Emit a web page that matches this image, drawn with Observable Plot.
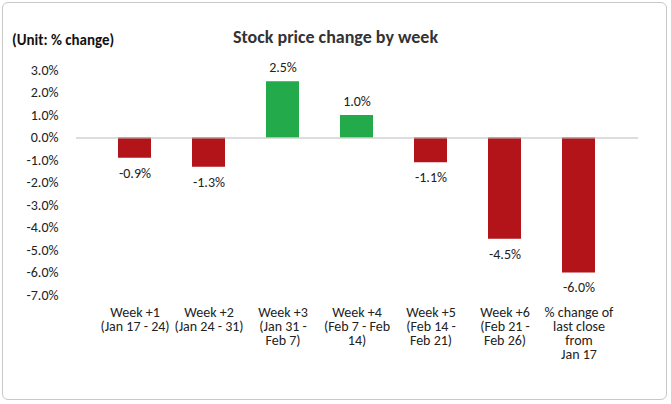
<!DOCTYPE html>
<html><head>
<script src="https://cdn.jsdelivr.net/npm/d3@7"></script>
<script src="https://cdn.jsdelivr.net/npm/@observablehq/plot@0.6"></script>
<style>
body{margin:0;background:#fff;font-family:Carlito,Calibri,"Liberation Sans",Lato,sans-serif;}
#wrap{position:relative;width:671px;height:404px;}
#frame{position:absolute;left:2px;top:2px;width:665px;height:398px;border:1px solid #c8c8c8;border-radius:6px;box-sizing:border-box;}
#title{position:absolute;left:0;width:671px;top:26px;text-align:center;font-weight:bold;font-size:18px;color:#333;}
#unit{position:absolute;left:12px;top:31px;font-weight:bold;font-size:15px;color:#111;}
#chart{position:absolute;left:0;top:0;}
</style></head><body>
<div id="wrap"><div id="frame"></div><div id="chart"></div><div id="title">Stock price change by week</div><div id="unit">(Unit: % change)</div></div>
<script>
const categories = ["Week +1\n(Jan 17 - 24)","Week +2\n(Jan 24 - 31)","Week +3\n(Jan 31 -\nFeb 7)","Week +4\n(Feb 7 - Feb\n14)","Week +5\n(Feb 14 -\nFeb 21)","Week +6\n(Feb 21 -\nFeb 26)","% change of\nlast close\nfrom\nJan 17"];
const values = [-0.9,-1.3,2.5,1.0,-1.1,-4.5,-6.0];
const yTicks = [3,2,1,0,-1,-2,-3,-4,-5,-6,-7];
const data = categories.map((c,i)=>({c,v:values[i]}));
const fmt = v => v.toFixed(1)+"%";
const chart = Plot.plot({
  width:671,height:404,marginTop:70,marginBottom:109,marginLeft:76,marginRight:33,
  style:{fontFamily:"Carlito,Calibri,'Liberation Sans',sans-serif",fontSize:"14px",color:"#222",background:"transparent"},
  x:{domain:categories,padding:0.55,tickSize:0,tickPadding:12,label:null},
  y:{domain:[-7,3],ticks:yTicks,tickFormat:fmt,tickSize:0,tickPadding:18,label:null},
  marks:[
    Plot.barY(data,{x:"c",y:"v",fill:d=>d.v>=0?"#22AA4B":"#B3141A"}),
    Plot.ruleY([0],{stroke:"#bbb"}),
    Plot.text(data.filter(d=>d.v>=0),{x:"c",y:"v",text:d=>fmt(d.v),dy:-14,fontSize:14}),
    Plot.text(data.filter(d=>d.v<0),{x:"c",y:"v",text:d=>fmt(d.v),dy:15,fontSize:14})
  ]
});
document.getElementById("chart").append(chart);
</script></body></html>
